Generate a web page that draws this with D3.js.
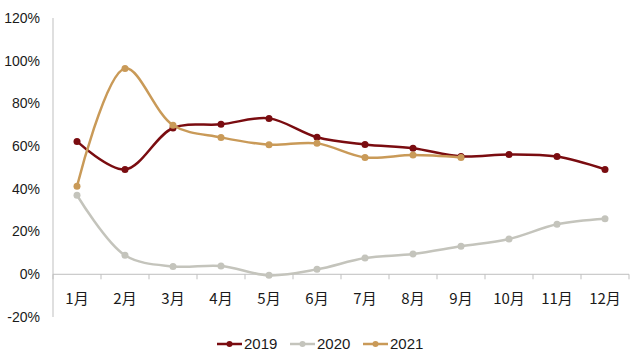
<!DOCTYPE html>
<html><head><meta charset="utf-8">
<script src="https://cdn.jsdelivr.net/npm/d3@7"></script>
<style>body{margin:0;background:#fff}svg{display:block}</style>
</head><body>
<svg id="c" width="640" height="359"></svg>
<script>
const categories = ["1月","2月","3月","4月","5月","6月","7月","8月","9月","10月","11月","12月"];
const s2019 = [62.2,49.1,68.5,70.2,73.0,64.2,60.8,59.0,55.2,56.1,55.1,49.1];
const s2020 = [37.0,8.9,3.7,3.9,-0.5,2.3,7.6,9.5,13.1,16.5,23.4,26.0];
const s2021 = [41.2,96.4,69.8,64.1,60.7,61.3,54.7,55.8,54.7];
const yTicks = [-20,0,20,40,60,80,100,120];
const seriesNames = ["2019","2020","2021"];
const colors = ["#7a0c10","#c4c4bc","#c99a58"];

const svg = d3.select("#c");
const x0 = 53, x1 = 629;
const y = d3.scaleLinear().domain([-20,120]).range([317,18]);
const x = d3.scaleBand().domain(categories).range([x0,x1]);

// y axis labels
svg.append("g").selectAll("text").data(yTicks).join("text")
  .attr("x",40).attr("y",d=>y(d)).attr("dy","0.35em")
  .attr("text-anchor","end")
  .style("font-family","'Liberation Sans',Arial,sans-serif").style("font-size","14px").attr("fill","#1a1a1a")
  .text(d=>d+"%");
// y axis line
svg.append("line").attr("x1",x0).attr("x2",x0).attr("y1",y(120)).attr("y2",y(-20)).attr("stroke","#bfbfbf").attr("stroke-width",1);

// x axis
const xg = svg.append("g").attr("transform",`translate(0,${y(0)})`);
xg.append("line").attr("x1",x0).attr("x2",x1).attr("stroke","#bfbfbf");
xg.selectAll(".tk").data(d3.range(categories.length+1)).join("line")
  .attr("x1",i=>x0+i*x.step()).attr("x2",i=>x0+i*x.step()).attr("y1",0).attr("y2",5).attr("stroke","#bfbfbf");
xg.selectAll("text").data(categories).join("text")
  .attr("x",d=>x(d)+x.bandwidth()/2).attr("y",24).attr("dy","0.35em").attr("text-anchor","middle")
  .style("font-family","'Noto Sans CJK SC',sans-serif").style("font-size","15px").attr("fill","#1a1a1a")
  .text(d=>d);

const line = d3.line().x((d,i)=>x(categories[i])+x.bandwidth()/2).y(d=>y(d)).curve(d3.curveCatmullRom.alpha(0.5));
[s2020,s2019,s2021].forEach((s,k)=>{
  const idx=[1,0,2][k];
  const g=svg.append("g");
  g.append("path").attr("d",line(s)).attr("fill","none").attr("stroke",colors[idx]).attr("stroke-width",2.5);
  g.selectAll("circle").data(s).join("circle")
    .attr("cx",(d,i)=>x(categories[i])+x.bandwidth()/2).attr("cy",d=>y(d)).attr("r",3.5).attr("fill",colors[idx]);
});

// legend
const lx=[217,290,363];
const lg=svg.append("g");
seriesNames.forEach((n,i)=>{
  lg.append("line").attr("x1",lx[i]).attr("x2",lx[i]+25).attr("y1",344).attr("y2",344).attr("stroke",colors[i]).attr("stroke-width",2.5);
  lg.append("circle").attr("cx",lx[i]+12.5).attr("cy",344).attr("r",3).attr("fill",colors[i]);
  lg.append("text").attr("x",lx[i]+27).attr("y",344).attr("dy","0.35em")
    .style("font-family","'Liberation Sans',Arial,sans-serif").style("font-size","15px").attr("fill","#1a1a1a").text(n);
});
</script>
</body></html>
